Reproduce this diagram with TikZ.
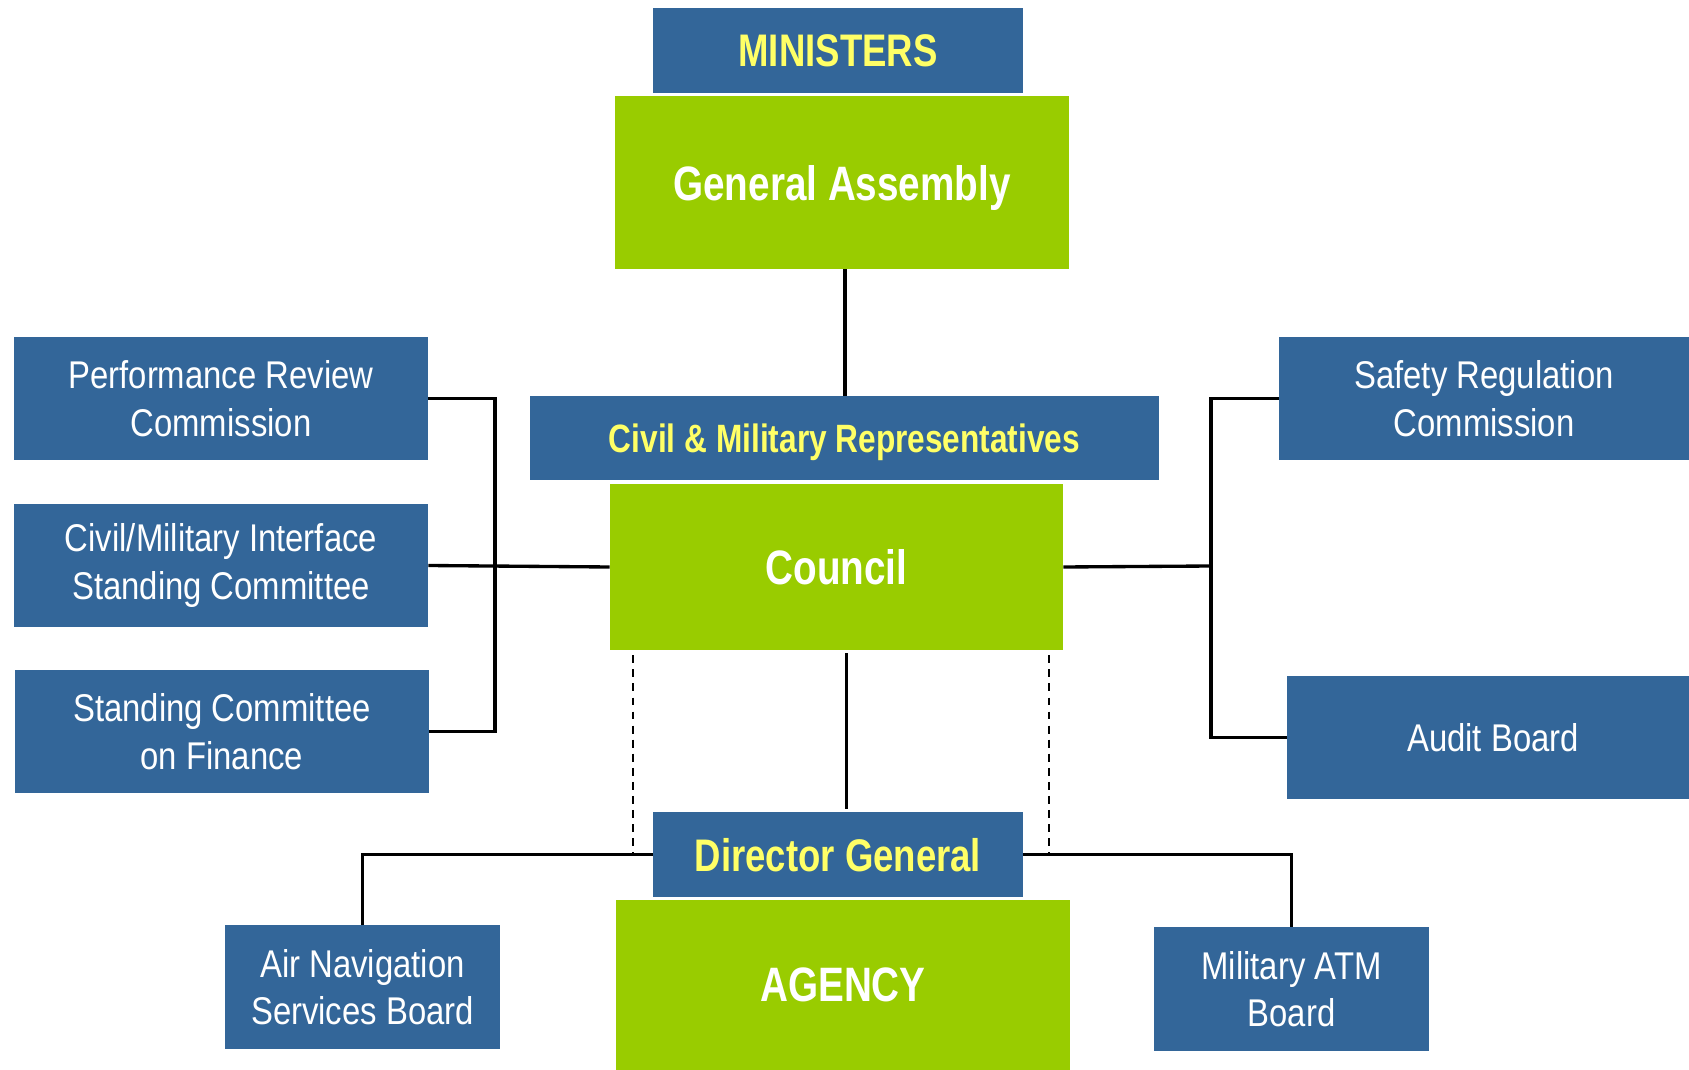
\documentclass[tikz,border=0pt]{standalone}
\usepackage{fontspec}
\setmainfont{Liberation Sans}[FakeStretch=0.85,BoldFeatures={FakeStretch=0.8}]
\usepackage{xcolor}
\definecolor{boxblue}{HTML}{336699}
\definecolor{boxgreen}{HTML}{99CC00}
\definecolor{headyellow}{HTML}{FFFF66}

\begin{document}
\begin{tikzpicture}[x=0.02cm,y=-0.02cm,
    bluebox/.style={fill=boxblue,text=white,inner sep=0pt,align=center,
      font=\fontsize{22}{27}\selectfont,minimum height=123*0.02cm},
    headbox/.style={fill=boxblue,text=headyellow,inner sep=0pt,text depth=0pt,
      font=\bfseries\fontsize{26}{30}\selectfont,minimum height=85*0.02cm},
    greenbox/.style={fill=boxgreen,text=white,inner sep=0pt,text depth=0pt,
      font=\bfseries\fontsize{27.5}{32}\selectfont,minimum width=454*0.02cm},
    conn/.style={draw=black,line width=1.9pt},
    dashconn/.style={draw=black,line width=1.2pt,dash pattern=on 4.5pt off 3.5pt}]
      \useasboundingbox (0,0) rectangle (1689,1070);
      % Top of the chart
      \node[headbox,minimum width=370*0.02cm] (ministers) at (838,50.5) {MINISTERS};
      \node[greenbox,minimum height=173*0.02cm] (assembly) at (842,182.5) {General Assembly};
      \node[headbox,minimum width=629*0.02cm,minimum height=84*0.02cm,
        font=\bfseries\fontsize{22.5}{27}\selectfont] (reps) at (844.5,438) {Civil \& Military Representatives};
      \node[greenbox,minimum width=453*0.02cm,minimum height=166*0.02cm] (council) at (836.5,567) {Council};
      % Left committees
      \node[bluebox,minimum width=414*0.02cm] (prc) at (221,398.5) {Performance Review\\Commission};
      \node[bluebox,minimum width=414*0.02cm] (cmisc) at (221,565.5) {Civil/Military Interface\\Standing Committee};
      \node[bluebox,minimum width=414*0.02cm] (scf) at (222,731.5) {Standing Committee\\on Finance};
      % Right bodies
      \node[bluebox,minimum width=410*0.02cm] (src) at (1484,398.5) {Safety Regulation\\Commission};
      \node[bluebox,minimum width=412*0.02cm] (audit) at (1493,737.5) {Audit Board};
      % Bottom part
      \node[headbox,minimum width=370*0.02cm] (dg) at (838,854.5) {Director General};
      \node[greenbox,minimum height=170*0.02cm] (agency) at (843,985) {AGENCY};
      \node[bluebox,minimum width=275*0.02cm,minimum height=124*0.02cm] (ansb) at (362.5,987) {Air Navigation\\Services Board};
      \node[bluebox,minimum width=275*0.02cm,minimum height=124*0.02cm] (matm) at (1291.5,989) {Military ATM\\Board};
      % Junctions
      \coordinate (lj) at (495,563);
      \coordinate (rj) at (1211,566);
      \coordinate (dashl) at (633,0);
      \coordinate (dashr) at (1049,0);
      % Connectors
      \draw[conn] ([xshift=0.06cm]assembly.south) -- ([xshift=0.06cm]assembly.south |- reps.north);
      \draw[conn] (prc.east) -| (lj) |- (scf.east);
      \draw[conn] (cmisc.east) -- (council.west);
      \draw[conn] (src.west) -| (rj) |- (audit.west);
      \draw[conn] (council.east) -- (rj);
      \draw[conn,shorten <=0.06cm,shorten >=0.06cm] ([xshift=0.2cm]council.south) -- ([xshift=0.2cm]council.south |- dg.north);
      \draw[dashconn] ([yshift=-0.1cm]council.south -| dashl) -- (dg.west -| dashl);
      \draw[dashconn] ([yshift=-0.1cm]council.south -| dashr) -- (dg.east -| dashr);
      \draw[conn] (dg.west) -| (ansb.north);
      \draw[conn] (dg.east) -| (matm.north);
    \end{tikzpicture}
\end{document}
